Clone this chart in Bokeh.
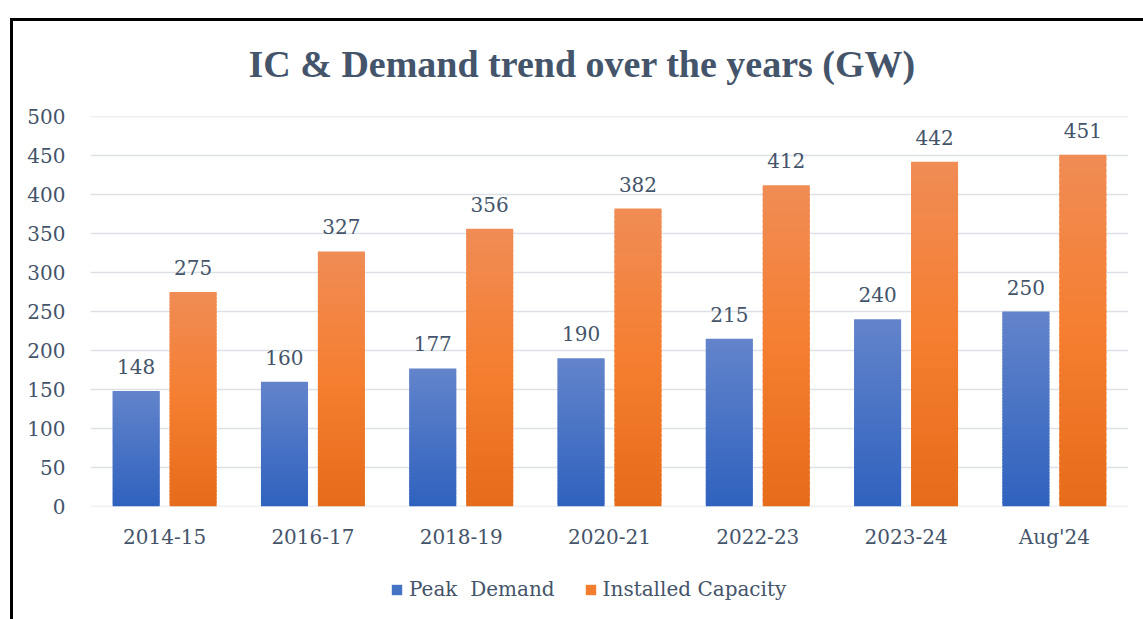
from bokeh.plotting import figure
from bokeh.layouts import column
from bokeh.models import (ColumnDataSource, FactorRange, Range1d, LabelSet,
                          Legend, LegendItem, FixedTicker)
from bokeh.core.properties import value
from bokeh.transform import dodge
from bokeh.embed import file_html
from bokeh.resources import INLINE

categories = ["2014-15", "2016-17", "2018-19", "2020-21", "2022-23", "2023-24", "Aug'24"]
peak_demand = [148, 160, 177, 190, 215, 240, 250]
installed_capacity = [275, 327, 356, 382, 412, 442, 451]
y_ticks = [0, 50, 100, 150, 200, 250, 300, 350, 400, 450, 500]
series_names = ["Peak  Demand", "Installed Capacity"]
title_text = "IC & Demand trend over the years (GW)"

TXT = "#44546A"
SERIF = "DejaVu Serif"
BLUE = "#4472C4"
ORANGE = "#F37D2E"
GRID = "#dde1e6"

# gradient stops (fraction from bottom, rgb)
blue_stops = [(0.0, (47, 98, 190)), (1.0, (99, 132, 203))]
orange_stops = [(0.0, (229, 108, 26)), (0.5, (245, 126, 48)), (1.0, (240, 140, 85))]


def grad(stops, f):
    for (f0, c0), (f1, c1) in zip(stops[:-1], stops[1:]):
        if f0 <= f <= f1:
            t = (f - f0) / (f1 - f0)
            c = [round(a + (b - a) * t) for a, b in zip(c0, c1)]
            return "#%02x%02x%02x" % tuple(c)
    return "#%02x%02x%02x" % stops[-1][1]


def slices(values, stops, n=60):
    xs, bots, tops, cols = [], [], [], []
    for cat, v in zip(categories, values):
        for k in range(n):
            xs.append(cat)
            bots.append(v * k / n)
            tops.append(min(v, v * (k + 1.6) / n))
            cols.append(grad(stops, (k + 0.5) / n))
    return ColumnDataSource(dict(x=xs, bottom=bots, top=tops, color=cols))


W = 1143
H_MAIN = 575
H_LEG = 44

p = figure(x_range=FactorRange(factors=categories, range_padding=0),
           y_range=Range1d(0, 500),
           width=W, height=H_MAIN,
           min_border_left=90, min_border_right=15,
           min_border_top=116, min_border_bottom=69,
           output_backend="svg", toolbar_location=None)
p.outline_line_color = None
p.background_fill_color = "white"
p.border_fill_color = None
p.styles = {
    "background": ("linear-gradient(#000,#000) 10px 18px / 3px 700px no-repeat, "
                   "linear-gradient(#000,#000) 10px 18px / 1140px 3px no-repeat, #ffffff"),
}

# horizontal gridlines spanning exactly the category extent
n_cat = len(categories)
p.segment(x0=[0] * len(y_ticks), x1=[n_cat] * len(y_ticks), y0=y_ticks, y1=y_ticks,
          line_color=GRID, line_width=1.5, level="underlay")

OFF = 0.192
BW = 0.317

src_b = slices(peak_demand, blue_stops)
src_o = slices(installed_capacity, orange_stops)
p.vbar(x=dodge("x", -OFF, range=p.x_range), bottom="bottom", top="top", width=BW,
       fill_color="color", line_color=None, source=src_b)
p.vbar(x=dodge("x", OFF, range=p.x_range), bottom="bottom", top="top", width=BW,
       fill_color="color", line_color=None, source=src_o)

lab_src = ColumnDataSource(dict(x=categories, pd=peak_demand, ic=installed_capacity,
                                pdt=[str(v) for v in peak_demand],
                                ict=[str(v) for v in installed_capacity]))
for col, txt, off in (("pd", "pdt", -OFF), ("ic", "ict", OFF)):
    p.add_layout(LabelSet(x=dodge("x", off, range=p.x_range), y=col, text=txt,
                          source=lab_src, text_align="center", text_baseline="alphabetic",
                          y_offset=17, text_font=value(SERIF), text_font_size=value("20px"),
                          text_color=TXT))

# axes
p.xgrid.grid_line_color = None
p.ygrid.grid_line_color = None
p.yaxis.ticker = FixedTicker(ticks=y_ticks)
for ax in (p.xaxis, p.yaxis):
    ax.axis_line_color = None
    ax.major_tick_line_color = None
    ax.minor_tick_line_color = None
    ax.major_label_text_font = SERIF
    ax.major_label_text_font_size = "20px"
    ax.major_label_text_color = TXT
p.yaxis.major_label_standoff = 19
p.xaxis.major_label_standoff = 12

# title
p.title.text = title_text
p.title.align = "left"
p.title.offset = 158
p.title.standoff = 64
p.title.text_font = "Liberation Serif"
p.title.text_font_style = "bold"
p.title.text_font_size = "38px"
p.title.text_color = TXT

# legend strip below the chart (its frame is aligned with the chart's frame)
lf = figure(x_range=Range1d(0, 1), y_range=Range1d(0, 1), width=W, height=H_LEG,
            min_border=0, x_axis_location=None, y_axis_location=None,
            output_backend="svg", toolbar_location=None)
lf.grid.grid_line_color = None
lf.outline_line_color = None
lf.background_fill_color = None
lf.border_fill_color = None
lf.styles = {
    "background": "linear-gradient(#000,#000) 10px 0px / 3px 100px no-repeat, #ffffff",
}
# zero-size placeholder glyphs, used only for the legend swatches
lb = lf.vbar(x=[0.5], top=[0.5], bottom=[0.5], width=0, fill_color=BLUE, line_color=None)
lo = lf.vbar(x=[0.5], top=[0.5], bottom=[0.5], width=0, fill_color=ORANGE, line_color=None)
legend = Legend(items=[LegendItem(label=series_names[0], renderers=[lb]),
                       LegendItem(label=series_names[1], renderers=[lo])],
                orientation="horizontal", location=(300, 18),
                glyph_width=13, glyph_height=13, label_standoff=6, spacing=29,
                padding=0, margin=0, border_line_color=None, background_fill_alpha=0,
                label_text_font=SERIF, label_text_font_size="20px",
                label_text_color=TXT)
lf.add_layout(legend, "center")

layout = column(p, lf, spacing=0)
open("out.html", "w").write(file_html(layout, INLINE))
